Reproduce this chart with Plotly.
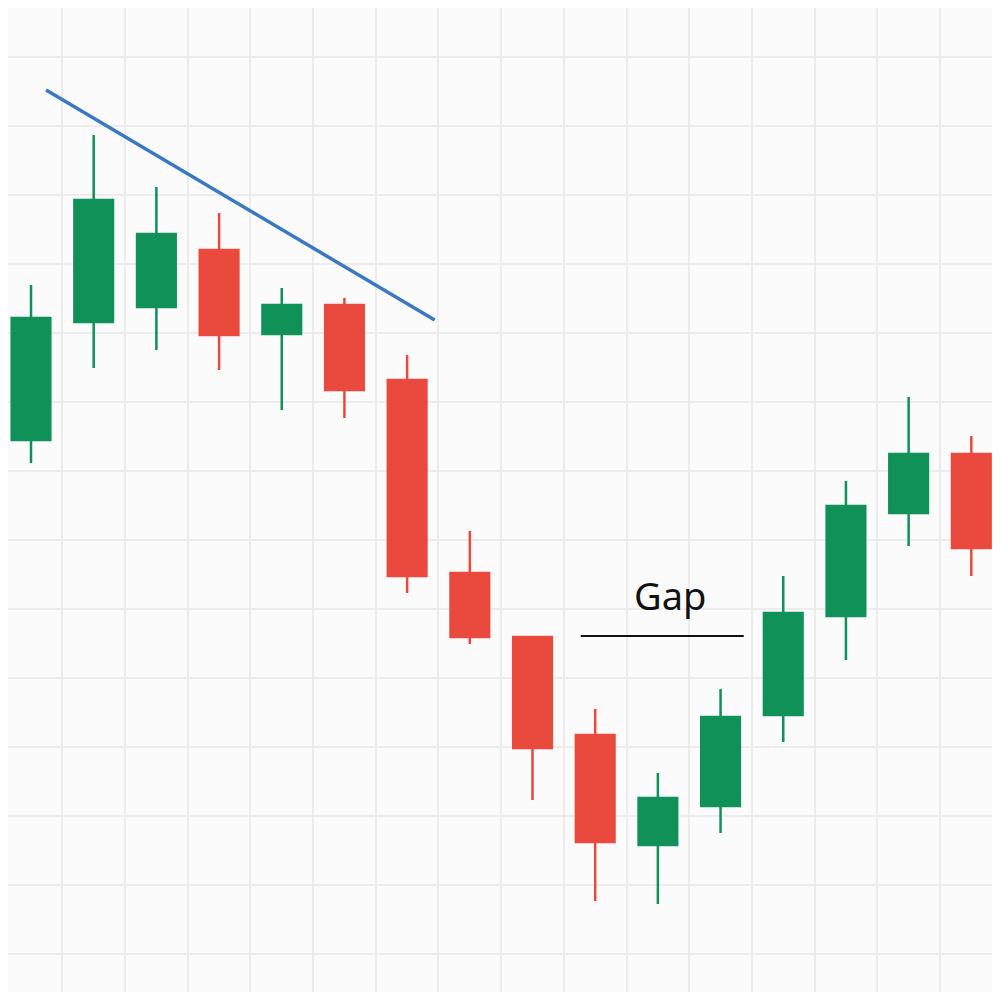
import plotly.graph_objects as go

# prices are measured upward (1000 - screen pixel) from the picture
idx = list(range(16))
opens = [560, 678, 693, 750, 666, 695, 620, 427, 363, 265, 155, 194, 285, 384, 487, 546]
closes = [682, 800, 766, 665, 695, 610, 424, 363, 252, 158, 202, 283, 387, 494, 546, 452]
highs = [715, 865, 813, 787, 712, 702, 645, 469, 363, 291, 227, 311, 424, 519, 603, 564]
lows = [537, 632, 650, 630, 590, 582, 407, 356, 200, 99, 96, 167, 258, 340, 454, 424]

trend_x = [0.24, 6.44]
trend_y = [910, 680]
gap_x = [8.77, 11.37]
gap_y = [364, 364]

fig = go.Figure()
fig.add_trace(go.Candlestick(
    x=idx, open=opens, high=highs, low=lows, close=closes,
    increasing=dict(line=dict(color="#0f9158", width=2.5), fillcolor="#0f9158"),
    decreasing=dict(line=dict(color="#ea4a3d", width=2.5), fillcolor="#ea4a3d"),
    whiskerwidth=0, showlegend=False,
))
fig.add_trace(go.Scatter(x=trend_x, y=trend_y, mode="lines",
                         line=dict(color="#3a78c2", width=3.5), showlegend=False))
fig.add_trace(go.Scatter(x=gap_x, y=gap_y, mode="lines",
                         line=dict(color="#111111", width=2), showlegend=False))
fig.add_annotation(x=10.2, y=405, text="Gap", showarrow=False,
                   font=dict(size=38, color="#111111", family="Noto Sans"))

fig.update_layout(
    width=984, height=984, margin=dict(l=0, r=0, t=0, b=0),
    paper_bgcolor="#fbfbfb", plot_bgcolor="#fbfbfb", boxgap=0.12,
    xaxis=dict(range=[-0.367, 15.33], tick0=0.5, dtick=1, showticklabels=False,
               gridcolor="#ececec", gridwidth=1.5, zeroline=False,
               rangeslider=dict(visible=False)),
    yaxis=dict(range=[8, 992], tick0=46, dtick=69, showticklabels=False,
               gridcolor="#ececec", gridwidth=1.5, zeroline=False),
)
fig.write_html("out.html")
